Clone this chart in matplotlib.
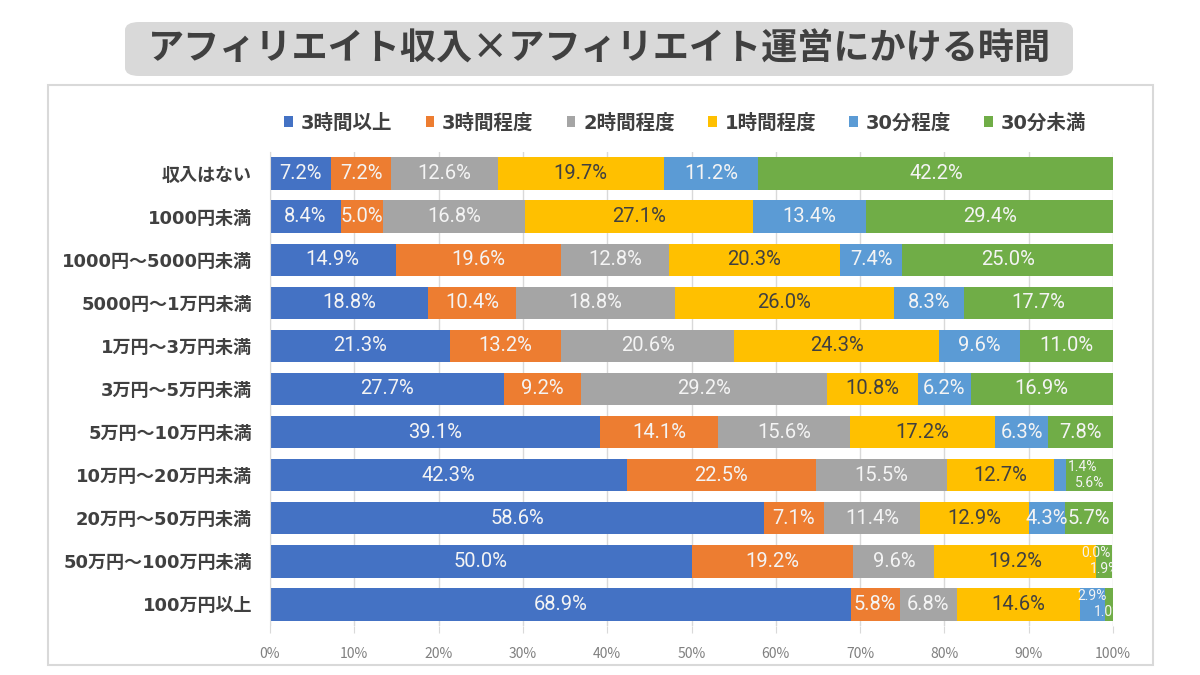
import numpy as np
import matplotlib
matplotlib.use("Agg")
import matplotlib.pyplot as plt
from matplotlib.patches import FancyBboxPatch, Rectangle

plt.rcParams['font.family'] = ['Noto Sans CJK JP', 'DejaVu Sans']
mixed = ['DejaVu Sans', 'Noto Sans CJK JP']
label_font = ['Roboto', 'Noto Sans CJK JP']

title = "アフィリエイト収入×アフィリエイト運営にかける時間"

categories = ["収入はない", "1000円未満", "1000円〜5000円未満", "5000円〜1万円未満",
              "1万円〜3万円未満", "3万円〜5万円未満", "5万円〜10万円未満",
              "10万円〜20万円未満", "20万円〜50万円未満", "50万円〜100万円未満",
              "100万円以上"]
series = ["3時間以上", "3時間程度", "2時間程度", "1時間程度", "30分程度", "30分未満"]

over_3h = [7.2, 8.4, 14.9, 18.8, 21.3, 27.7, 39.1, 42.3, 58.6, 50.0, 68.9]
about_3h = [7.2, 5.0, 19.6, 10.4, 13.2, 9.2, 14.1, 22.5, 7.1, 19.2, 5.8]
about_2h = [12.6, 16.8, 12.8, 18.8, 20.6, 29.2, 15.6, 15.5, 11.4, 9.6, 6.8]
about_1h = [19.7, 27.1, 20.3, 26.0, 24.3, 10.8, 17.2, 12.7, 12.9, 19.2, 14.6]
about_30m = [11.2, 13.4, 7.4, 8.3, 9.6, 6.2, 6.3, 1.4, 4.3, 0.0, 2.9]
under_30m = [42.2, 29.4, 25.0, 17.7, 11.0, 16.9, 7.8, 5.6, 5.7, 1.9, 1.0]

values = [over_3h, about_3h, about_2h, about_1h, about_30m, under_30m]
colors = ["#4472C4", "#ED7D31", "#A5A5A5", "#FFC000", "#5B9BD5", "#70AD47"]
text_colors = ["#f4f4f4", "#f4f4f4", "#f4f4f4", "#404040", "#f4f4f4", "#f4f4f4"]

fig = plt.figure(figsize=(12, 6.75), dpi=100)

# outer frame and title box (behind the axes)
fig.patches.append(Rectangle((48 / 1200, 1 - 665 / 675), 1105 / 1200, 580 / 675,
                             transform=fig.transFigure, facecolor="white",
                             edgecolor="#d9d9d9", linewidth=1.5, zorder=-2))
fig.patches.append(FancyBboxPatch((125 / 1200, 1 - 76 / 675), 948 / 1200, 54 / 675,
                                  boxstyle="round,pad=0,rounding_size=0.012",
                                  transform=fig.transFigure, facecolor="#d9d9d9",
                                  edgecolor="none", zorder=-2))
fig.text(0.5, 1 - 49 / 675, title, ha="center", va="center", fontsize=26,
         fontweight="bold", color="#404040")

ax = fig.add_axes([270 / 1200, 1 - 626 / 675, 843 / 1200, 474 / 675])
ax.patch.set_alpha(0)
y = np.arange(len(categories))
left = np.zeros(len(categories))
for vals, name, col, tcol in zip(values, series, colors, text_colors):
    vals = np.array(vals)
    ax.barh(y, vals, left=left, height=0.75, color=col, label=name, zorder=2)
    for i, v in enumerate(vals):
        cx = left[i] + v / 2
        # rows where the 30分程度 slice is too thin get two small stacked labels
        stacked = values[4][i] < 3
        if stacked and name == "30分程度":
            ax.text(max(cx, 96.4), i - 0.2, f"{v:.1f}%", ha="center", va="center",
                    fontsize=10, family=label_font, color=tcol, clip_on=True, zorder=3)
        elif stacked and name == "30分未満":
            ax.text(cx, i + 0.18, f"{v:.1f}%", ha="center", va="center",
                    fontsize=10, family=label_font, color=tcol, clip_on=True, zorder=3)
        else:
            ax.text(cx, i, f"{v:.1f}%", ha="center", va="center", fontsize=14.5,
                    family=label_font, color=tcol, zorder=3)
    left += vals

ax.set_xlim(0, 100)
ax.set_ylim(len(categories) - 0.5, -0.5)
ax.set_yticks(y)
ax.set_yticklabels(categories, fontsize=13, fontweight="bold", color="#404040",
                   family=mixed)
ax.set_xticks(np.arange(0, 101, 10))
ax.set_xticklabels([f"{t}%" for t in range(0, 101, 10)], fontsize=10, color="#808080")
ax.tick_params(axis="y", length=0, pad=13)
ax.tick_params(axis="x", length=5, color="#d9d9d9", pad=10)
ax.grid(axis="x", color="#d9d9d9", linewidth=1, zorder=0)
for s in ["top", "right", "bottom"]:
    ax.spines[s].set_visible(False)
ax.spines["left"].set_color("#d9d9d9")

leg = fig.legend(loc="center", bbox_to_anchor=(0.571, 1 - 123 / 675), ncol=6,
                 frameon=False, handlelength=0.45, handleheight=0.45, handletextpad=0.4,
                 columnspacing=1.7, prop={"size": 14, "weight": "bold", "family": mixed})
for t in leg.get_texts():
    t.set_color("#404040")

fig.savefig("out.png", dpi=100)
